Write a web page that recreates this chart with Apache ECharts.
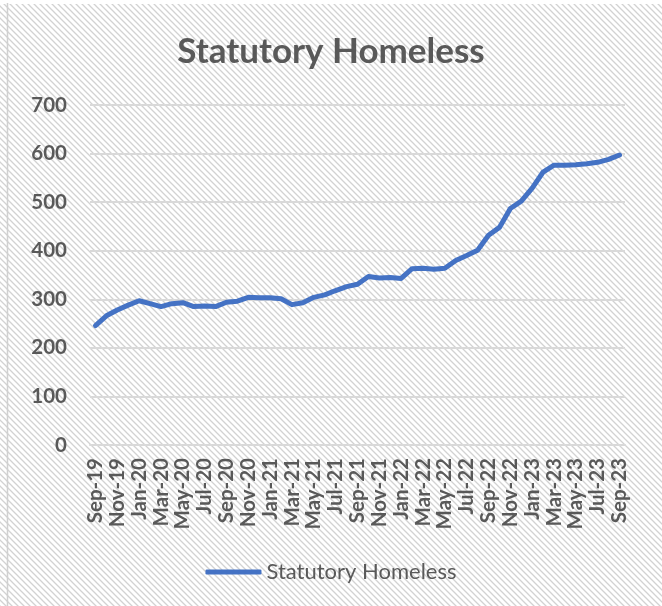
<!DOCTYPE html>
<html>
<head>
<meta charset="utf-8">
<script src="https://cdn.jsdelivr.net/npm/echarts@6/dist/echarts.min.js"></script>
<style>
  html, body { margin: 0; padding: 0; background: #ffffff; }
  #chart { width: 662px; height: 606px; }
</style>
</head>
<body>
<div id="chart"></div>
<script>
// Monthly count of statutory homeless, Sep 2019 – Sep 2023
const months = [
  'Sep-19','Oct-19','Nov-19','Dec-19','Jan-20','Feb-20','Mar-20','Apr-20','May-20','Jun-20',
  'Jul-20','Aug-20','Sep-20','Oct-20','Nov-20','Dec-20','Jan-21','Feb-21','Mar-21','Apr-21',
  'May-21','Jun-21','Jul-21','Aug-21','Sep-21','Oct-21','Nov-21','Dec-21','Jan-22','Feb-22',
  'Mar-22','Apr-22','May-22','Jun-22','Jul-22','Aug-22','Sep-22','Oct-22','Nov-22','Dec-22',
  'Jan-23','Feb-23','Mar-23','Apr-23','May-23','Jun-23','Jul-23','Aug-23','Sep-23'
];
const homeless = [
  246, 266, 278, 288, 297, 291, 285, 291, 293, 285,
  286, 285, 294, 296, 304, 303, 303, 301, 289, 293,
  304, 309, 318, 326, 331, 347, 344, 345, 343, 363,
  364, 362, 364, 380, 390, 401, 432, 448, 487, 502,
  529, 562, 576, 576, 577, 579, 582, 588, 597
];
const seriesName = 'Statutory Homeless';
const yTicks = [0, 100, 200, 300, 400, 500, 600, 700];

// diagonal hatch tile used as the chart-area fill
function hatchTile(size, color, width) {
  const c = document.createElement('canvas');
  c.width = size; c.height = size;
  const ctx = c.getContext('2d');
  ctx.strokeStyle = color;
  ctx.lineWidth = width;
  ctx.beginPath();
  ctx.moveTo(-1, -1); ctx.lineTo(size + 1, size + 1);
  ctx.moveTo(-1, size - 1); ctx.lineTo(1, size + 1);
  ctx.moveTo(size - 1, -1); ctx.lineTo(size + 1, 1);
  ctx.stroke();
  return c;
}
const tile = hatchTile(6, '#d2d2d2', 1.3);

const textColor = '#595959';
const font = 'Lato, "Open Sans", sans-serif';

const chart = echarts.init(document.getElementById('chart'), null, { renderer: 'canvas' });
chart.setOption({
  backgroundColor: '#ffffff',
  animation: false,
  graphic: [
    {
      type: 'rect', z: -100, silent: true,
      shape: { x: 0, y: 4, width: 662, height: 602 },
      style: { fill: { image: tile, repeat: 'repeat' } }
    },
    {
      type: 'line', z: -99, silent: true,
      shape: { x1: 7.5, y1: 3, x2: 7.5, y2: 606 },
      style: { stroke: '#d0d0d0', lineWidth: 1.5 }
    }
  ],
  title: {
    text: seriesName,
    left: 'center',
    top: 29,
    textStyle: { fontFamily: font, fontWeight: 'bold', fontSize: 35, color: textColor }
  },
  legend: {
    data: [seriesName],
    bottom: 18,
    left: 'center',
    icon: 'roundRect',
    itemWidth: 56,
    itemHeight: 5,
    itemGap: 4,
    textStyle: { fontFamily: font, fontSize: 22, color: textColor }
  },
  grid: { left: 90, right: 37, top: 105, bottom: 161, containLabel: false },
  xAxis: {
    type: 'category',
    data: months,
    boundaryGap: true,
    axisTick: { show: false },
    axisLine: { show: true, lineStyle: { color: '#d9d9d9', width: 2 } },
    axisLabel: {
      interval: 1,
      rotate: 90,
      margin: 13,
      fontFamily: font,
      fontWeight: 'bold',
      fontSize: 20.5,
      color: textColor
    }
  },
  yAxis: {
    type: 'value',
    min: yTicks[0],
    max: yTicks[yTicks.length - 1],
    interval: 100,
    axisLine: { show: false },
    axisTick: { show: false },
    splitLine: { lineStyle: { color: '#d9d9d9', width: 2 } },
    axisLabel: {
      margin: 23,
      fontFamily: font,
      fontWeight: 'bold',
      fontSize: 20.5,
      color: textColor
    }
  },
  series: [{
    name: seriesName,
    type: 'line',
    data: homeless,
    showSymbol: false,
    symbol: 'none',
    lineStyle: { color: '#4472C4', width: 5, cap: 'round', join: 'round' },
    itemStyle: { color: '#4472C4' }
  }]
});
</script>
</body>
</html>
